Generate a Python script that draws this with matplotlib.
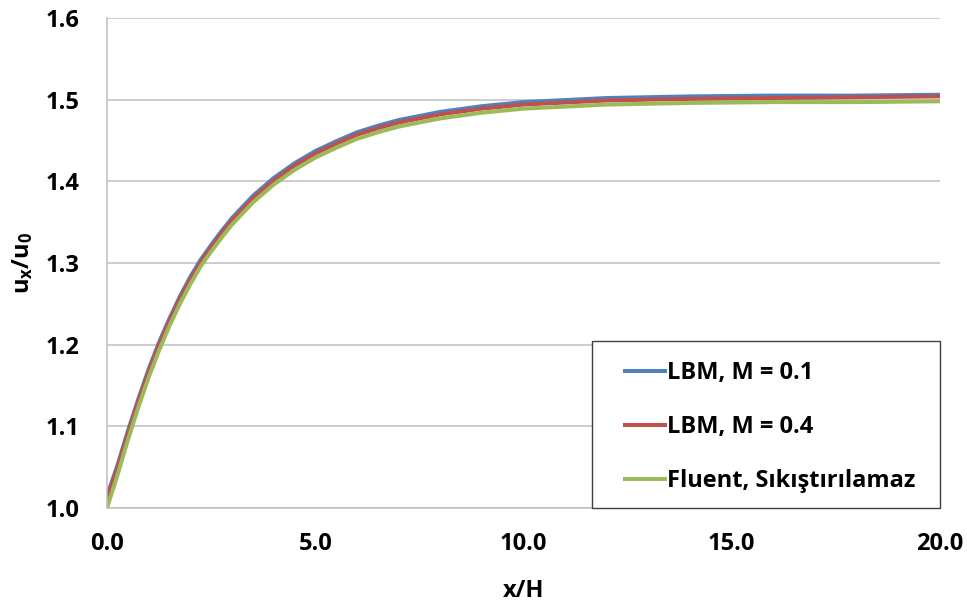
import matplotlib
matplotlib.use("Agg")
import matplotlib.pyplot as plt
from matplotlib.patches import Rectangle
from matplotlib.ticker import FormatStrFormatter

# values
x_h = [0, 0.25, 0.5, 0.75, 1.0, 1.25, 1.5, 1.75, 2.0, 2.25, 2.5, 2.75, 3.0, 3.5, 4.0, 4.5,
       5.0, 5.5, 6.0, 6.5, 7.0, 7.5, 8.0, 9.0, 10.0, 12.0, 14.0, 16.0, 18.0, 20.0]
lbm_m01 = [1.015, 1.052, 1.094, 1.133, 1.170, 1.203, 1.232, 1.259, 1.283, 1.304, 1.322, 1.339,
           1.355, 1.382, 1.404, 1.422, 1.437, 1.449, 1.460, 1.468, 1.475, 1.480, 1.485, 1.492,
           1.497, 1.502, 1.504, 1.505, 1.505, 1.506]
lbm_m04 = [1.010, 1.049, 1.091, 1.130, 1.167, 1.200, 1.229, 1.256, 1.280, 1.301, 1.319, 1.336,
           1.352, 1.379, 1.401, 1.419, 1.434, 1.446, 1.457, 1.465, 1.472, 1.477, 1.482, 1.489,
           1.494, 1.499, 1.501, 1.502, 1.503, 1.504]
fluent = [1.000, 1.040, 1.083, 1.123, 1.160, 1.193, 1.223, 1.250, 1.274, 1.296, 1.314, 1.331,
          1.347, 1.374, 1.396, 1.414, 1.429, 1.441, 1.452, 1.460, 1.467, 1.472, 1.477, 1.484,
          1.489, 1.494, 1.496, 1.497, 1.497, 1.498]

labels = ["LBM, M = 0.1", "LBM, M = 0.4", "Fluent, Sıkıştırılamaz"]
colors = ["#4F81BD", "#C0504D", "#9BBB59"]
x_ticks = [0, 5, 10, 15, 20]
y_ticks = [1.0, 1.1, 1.2, 1.3, 1.4, 1.5, 1.6]

plt.rcParams["font.family"] = ["Open Sans", "DejaVu Sans"]
plt.rcParams["font.weight"] = "bold"
plt.rcParams["mathtext.fontset"] = "custom"
plt.rcParams["mathtext.bf"] = "Open Sans:bold"
plt.rcParams["mathtext.rm"] = "Open Sans:bold"
plt.rcParams["mathtext.it"] = "Open Sans:bold"

fig = plt.figure(figsize=(9.67, 6.02), dpi=100)
ax = fig.add_axes([107 / 967, 94 / 602, 833 / 967, 490 / 602])

for ys, lab, c in zip([lbm_m01, lbm_m04, fluent], labels, colors):
    ax.plot(x_h, ys, color=c, lw=2.9, label=lab)

ax.set_xlim(0, 20)
ax.set_ylim(1.0, 1.6)
ax.set_xticks(x_ticks)
ax.set_yticks(y_ticks)
ax.xaxis.set_major_formatter(FormatStrFormatter("%.1f"))
ax.yaxis.set_major_formatter(FormatStrFormatter("%.1f"))
ax.tick_params(axis="both", length=0, labelsize=17)
ax.tick_params(axis="y", pad=20)
ax.tick_params(axis="x", pad=17)

ax.grid(axis="y", color="#BEBEBE", lw=1.1)
ax.set_axisbelow(True)
for side in ["top", "right"]:
    ax.spines[side].set_visible(False)
for side in ["left", "bottom"]:
    ax.spines[side].set_color("#BEBEBE")
    ax.spines[side].set_linewidth(1.1)

ax.set_xlabel("x/H", fontsize=17, fontweight="bold")
ax.set_ylabel(r"$\mathbf{u_x/u_0}$", fontsize=17)
ax.xaxis.set_label_coords(0.5, -0.144)
ax.yaxis.set_label_coords(-0.086, 0.5)

# legend box (Excel-style, square corners)
ax.add_patch(Rectangle((0.582, 0.0), 0.418, 0.341, transform=ax.transAxes,
                       facecolor="white", edgecolor="#404040", lw=1.0,
                       zorder=4, clip_on=False))
leg = ax.legend(loc="center left", bbox_to_anchor=(0.6218, 0.1653), borderaxespad=0,
                fontsize=17, frameon=False, handlelength=1.7, handletextpad=0.1,
                labelspacing=1.28, borderpad=0)
leg.set_zorder(5)

plt.savefig("out.png", dpi=100)
